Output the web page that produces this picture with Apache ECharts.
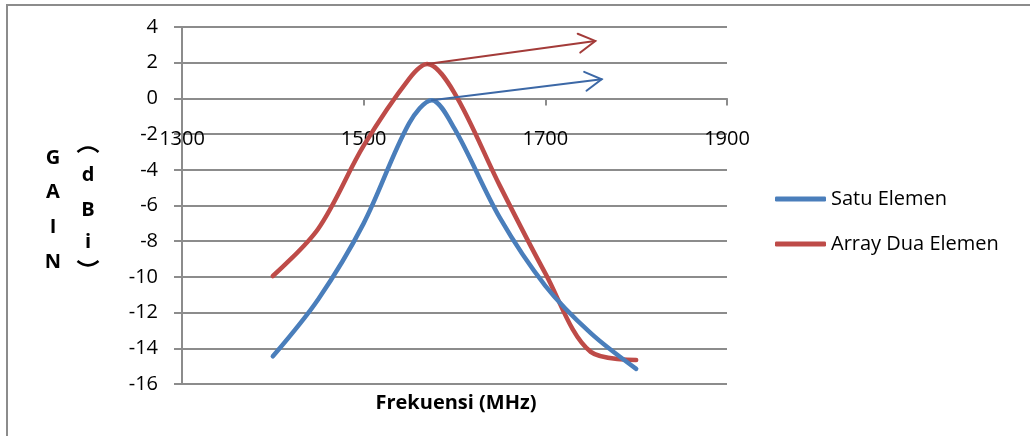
<!DOCTYPE html>
<html>
<head>
<meta charset="utf-8">
<title>Gain vs Frekuensi</title>
<script src="https://cdn.jsdelivr.net/npm/echarts@6/dist/echarts.min.js"></script>
<style>
  html, body { margin: 0; padding: 0; background: #ffffff; }
  #chart { width: 1030px; height: 436px; }
</style>
</head>
<body>
<div id="chart"></div>
<script>
// Measured gain (dBi) against frequency (MHz)
const seriesNames = ['Satu Elemen', 'Array Dua Elemen'];
const freqSatu  = [1400, 1450, 1500, 1550, 1575, 1600, 1650, 1700, 1750, 1800];
const gainSatu  = [-14.45, -11.25, -7.0, -1.4, -0.1, -1.7, -6.7, -10.5, -13.15, -15.15];
const freqArray = [1400, 1450, 1500, 1550, 1570, 1600, 1650, 1700, 1750, 1800];
const gainArray = [-9.95, -7.3, -2.65, 1.1, 1.93, 0.3, -4.9, -9.8, -14.2, -14.65];

// Axis ranges / tick steps
const xRange = [1300, 1900];
const xStep = 200;
const yRange = [-16, 4];
const yStep = 2;

// Where each peak annotation arrow points to (data coordinates)
const arrowTipSatu  = [1762, 1.07];
const arrowTipArray = [1755, 3.22];

const FONT = '"Open Sans", sans-serif';
const BLUE = '#4A7EBB';
const RED = '#BE4B48';
const BLUE_ARROW = '#3C68A6';
const RED_ARROW = '#A33B39';
const GRID = '#8c8c8c';

const GRID_BOX = { left: 182, right: 303, top: 27, bottom: 52 };
const CHART_H = 436;

function pairs(xs, ys) { return xs.map((x, i) => [x, ys[i]]); }
function peakOf(xs, ys) {
  let k = 0;
  ys.forEach((v, i) => { if (v > ys[k]) k = i; });
  return [xs[k], ys[k]];
}

// The frequency axis crosses the gain axis at 0 dBi
const plotH = CHART_H - GRID_BOX.top - GRID_BOX.bottom;
const xAxisOffset = -(0 - yRange[0]) / (yRange[1] - yRange[0]) * plotH;

const chart = echarts.init(document.getElementById('chart'));

const titleFont = 'bold 20px ' + FONT;
const yAxisTitle = [
  ['G', 53, 158], ['A', 53, 192.5], ['I', 53, 227], ['N', 53, 262],
  ['d', 88, 175], ['B', 88, 210], ['i', 88, 242]
];

function titleText(id, ch, x, y) {
  return {
    id: id, type: 'text', x: x, y: y, silent: true,
    style: { text: ch, font: titleFont, fill: '#000',
             textAlign: 'center', textVerticalAlign: 'middle' }
  };
}

// Sideways brackets of the stacked "(dBi)" title: ends at yEnd, apex at yApex
function bracket(id, cx, yEnd, yApex) {
  const half = 10.5;
  return {
    id: id, type: 'bezierCurve', silent: true,
    shape: { x1: cx - half, y1: yEnd, x2: cx + half, y2: yEnd,
             cpx1: cx, cpy1: 2 * yApex - yEnd },
    style: { stroke: '#000', lineWidth: 2.6, fill: null, lineCap: 'butt' }
  };
}

chart.setOption({
  backgroundColor: '#ffffff',
  animation: false,
  grid: Object.assign({ containLabel: false }, GRID_BOX),
  xAxis: {
    type: 'value',
    position: 'bottom',
    offset: xAxisOffset,
    min: xRange[0], max: xRange[1], interval: xStep,
    axisLine: { show: true, onZero: false, lineStyle: { color: GRID, width: 2 } },
    axisTick: { show: true, inside: false, length: 7, lineStyle: { color: GRID, width: 2 } },
    axisLabel: { color: '#000', fontFamily: FONT, fontSize: 20, margin: 31,
                 formatter: v => String(v) },
    splitLine: { show: false }
  },
  yAxis: {
    type: 'value',
    min: yRange[0], max: yRange[1], interval: yStep,
    axisLine: { show: true, onZero: false, lineStyle: { color: GRID, width: 2 } },
    axisTick: { show: true, inside: false, length: 8, lineStyle: { color: GRID, width: 2 } },
    axisLabel: { color: '#000', fontFamily: FONT, fontSize: 20, margin: 24 },
    splitLine: { show: true, lineStyle: { color: GRID, width: 2 } }
  },
  legend: {
    data: seriesNames,
    orient: 'vertical',
    left: 775, top: 189,
    icon: 'roundRect',
    itemWidth: 51, itemHeight: 5, itemGap: 25,
    padding: 0,
    selectedMode: false,
    textStyle: { color: '#000', fontFamily: FONT, fontSize: 20 }
  },
  series: [
    {
      name: seriesNames[0],
      type: 'line',
      data: pairs(freqSatu, gainSatu),
      smooth: 0.33,
      symbol: 'none',
      lineStyle: { color: BLUE, width: 4.5, cap: 'round', join: 'round' },
      itemStyle: { color: BLUE },
      z: 3
    },
    {
      name: seriesNames[1],
      type: 'line',
      data: pairs(freqArray, gainArray),
      smooth: 0.33,
      symbol: 'none',
      lineStyle: { color: RED, width: 4.5, cap: 'round', join: 'round' },
      itemStyle: { color: RED },
      z: 2
    }
  ],
  graphic: [
    // chart area border
    { id: 'border', type: 'rect', silent: true, shape: { x: 7, y: 5, width: 1040, height: 450 },
      style: { fill: null, stroke: GRID, lineWidth: 2 } },
    // axis titles
    titleText('xTitle', 'Frekuensi (MHz)', 456, 403),
    ...yAxisTitle.map(([ch, x, y], i) => titleText('yTitle' + i, ch, x, y)),
    bracket('yOpen', 88, 152, 147.5),
    bracket('yClose', 88, 261, 265.3)
  ]
});

// Peak annotation arrows, placed through the chart's own coordinate system
function arrowGraphic(key, from, to, color) {
  const p0 = chart.convertToPixel({ gridIndex: 0 }, from);
  const p1 = chart.convertToPixel({ gridIndex: 0 }, to);
  const back = Math.atan2(p0[1] - p1[1], p0[0] - p1[0]);
  const arm = 19, spread = Math.PI / 6;
  const a = [p1[0] + arm * Math.cos(back + spread), p1[1] + arm * Math.sin(back + spread)];
  const b = [p1[0] + arm * Math.cos(back - spread), p1[1] + arm * Math.sin(back - spread)];
  const style = { stroke: color, lineWidth: 2, fill: null, lineCap: 'round', lineJoin: 'miter' };
  return [
    { id: key + 'Shaft', type: 'polyline', silent: true, z: 10, shape: { points: [p0, p1] }, style: style },
    { id: key + 'Head', type: 'polyline', silent: true, z: 10, shape: { points: [a, p1, b] }, style: style }
  ];
}

chart.setOption({
  graphic: [
    ...arrowGraphic('arrowArray', peakOf(freqArray, gainArray), arrowTipArray, RED_ARROW),
    ...arrowGraphic('arrowSatu', peakOf(freqSatu, gainSatu), arrowTipSatu, BLUE_ARROW)
  ]
});
</script>
</body>
</html>
